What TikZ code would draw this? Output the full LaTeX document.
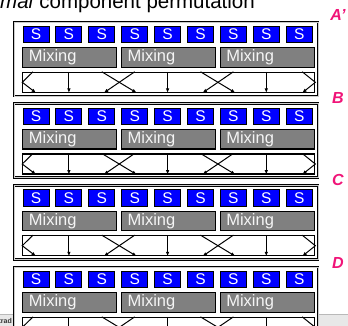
\documentclass[tikz,border=0pt]{standalone}
\usepackage{fontspec}
\setmainfont{Liberation Sans}
\usetikzlibrary{arrows.meta}
\definecolor{sblue}{RGB}{0,0,255}
\definecolor{mixgray}{RGB}{128,128,128}
\definecolor{roundpink}{RGB}{240,20,120}
\tikzset{
  stageframe/.style={draw=black, line width=0.8pt, double=gray!40, double distance=0.9pt, fill=white, inner sep=0pt, minimum width=304pt, minimum height=74pt},
  sbox/.style={draw=black, line width=0.9pt, fill=sblue, text=white, font=\fontsize{15.5}{15.5}\selectfont, inner sep=0pt, minimum width=26pt, minimum height=16.5pt},
  mixbox/.style={draw=black, line width=1.1pt, fill=mixgray, text=gray!8, font=\fontsize{16.5}{16.5}\selectfont, inner xsep=6pt, inner ysep=0pt, text width=82pt, align=left, minimum height=19.5pt},
  permbox/.style={draw=black, line width=1.1pt, inner sep=0pt, minimum width=292pt, minimum height=20pt},
  roundlbl/.style={text=roundpink, font=\fontsize{16}{16}\selectfont\bfseries\itshape}
}
\begin{document}
\begin{tikzpicture}[x=1pt, y=-1pt, >={Latex[length=4.5pt,width=3.6pt]}]
  \useasboundingbox (0,0) rectangle (348,325);
  \clip (0,0) rectangle (348,325);
  \fill[gray!18] (0,314) rectangle (348,326);
  \draw[gray!55] (0,314) -- (348,314);
  \node[anchor=base east, font=\bfseries\fontsize{7}{7}\selectfont, text=black!80, inner sep=0pt] (trad) at (12,323.5) {trad};
  \node[anchor=base east, font=\fontsize{20.5}{20.5}\selectfont, inner sep=0pt] (title) at (255,8) {\textit{Optimal} component permutation};
  \foreach \lab [count=\k from 0] in {A’,B,C,D} {
    \pgfmathsetmacro\t{21+81.7*\k}
    \node[stageframe] (f-\k) at (166,\t+38) {};
    \foreach \i in {0,...,8}
      \node[sbox] (s-\k-\i) at (36+32.9*\i,\t+13.5) {S};
    \foreach \j in {0,1,2}
      \node[mixbox] (m-\k-\j) at (69.9+98.7*\j,\t+36.5) {Mixing};
    \node[permbox] (p-\k) at (168.8,\t+61.3) {};
    \node[roundlbl] (lbl-\k) at (338,15+82.7*\k) {\lab};
    \begin{scope}[line width=1pt]
      \foreach \i in {1,4,7}
        \draw[->] (s-\k-\i |- p-\k.north) -- (s-\k-\i |- p-\k.south);
      \draw[->] (s-\k-2 |- p-\k.north) -- ([xshift=2pt]s-\k-3 |- p-\k.south);
      \draw[->] (s-\k-3 |- p-\k.north) -- ([xshift=2pt]s-\k-2 |- p-\k.south);
      \draw[->] (s-\k-5 |- p-\k.north) -- ([xshift=2pt]s-\k-6 |- p-\k.south);
      \draw[->] (s-\k-6 |- p-\k.north) -- ([xshift=2pt]s-\k-5 |- p-\k.south);
      \draw[->] ([xshift=-3pt]s-\k-0 |- p-\k.north) -- (p-\k.west) -- (s-\k-0 |- p-\k.south);
      \draw[->] ([xshift=3pt]s-\k-8 |- p-\k.north) -- (p-\k.east) -- ([xshift=3pt]s-\k-8 |- p-\k.south);
    \end{scope}
  }
\end{tikzpicture}
\end{document}
